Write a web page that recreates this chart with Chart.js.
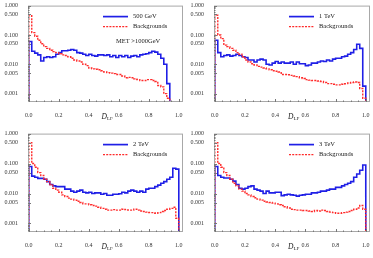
<!DOCTYPE html>
<html lang="en">
<head>
<meta charset="UTF-8">
<title>D_LF distributions</title>
<script src="https://cdn.jsdelivr.net/npm/chart.js"></script>
<style>
    body { margin: 0; background: #fff; }
    .wrap { position: relative; width: 373px; height: 258px; }
    canvas { position: absolute; }
</style>
</head>
<body>
<div class="wrap">
    <canvas id="c1" width="186" height="128" style="left:0;top:0"></canvas>
    <canvas id="c2" width="187" height="128" style="left:186px;top:0"></canvas>
    <canvas id="c3" width="186" height="130" style="left:0;top:128px"></canvas>
    <canvas id="c4" width="187" height="130" style="left:186px;top:128px"></canvas>
</div>
<script>
// bins of width 0.02 from 0 to 1 (50 bins), normalised distributions
const BIN = 0.02;
const yTickValues = [1, 0.5, 0.1, 0.05, 0.01, 0.005, 0.001];
const xTickValues = [0, 0.2, 0.4, 0.6, 0.8, 1.0];
const signalLabels = ['500 GeV', '1 TeV', '2 TeV', '3 TeV'];

const sig500 = [0.06, 0.028, 0.024, 0.021, 0.013, 0.017, 0.018, 0.017, 0.018, 0.022,
    0.025, 0.029, 0.029, 0.03, 0.032, 0.03, 0.025, 0.024, 0.022, 0.02,
    0.022, 0.02, 0.019, 0.021, 0.021, 0.02, 0.021, 0.018, 0.02, 0.017,
    0.02, 0.018, 0.02, 0.017, 0.019, 0.02, 0.018, 0.021, 0.022, 0.023,
    0.025, 0.028, 0.026, 0.022, 0.016, 0.01, 0.0022, 0, 0, 0];
const bkg500 = [0.45, 0.12, 0.09, 0.066, 0.05, 0.04, 0.035, 0.03, 0.027, 0.025,
    0.023, 0.021, 0.02, 0.018, 0.016, 0.014, 0.013, 0.012, 0.01, 0.009,
    0.0075, 0.007, 0.0068, 0.0065, 0.006, 0.0055, 0.0052, 0.005, 0.0048, 0.0045,
    0.0045, 0.004, 0.0035, 0.0036, 0.0035, 0.0032, 0.003, 0.0028, 0.0028, 0.003,
    0.003, 0.0028, 0.0026, 0.0019, 0.0017, 0.001, 0.0007, 0, 0, 0];

const sig1 = [0.066, 0.025, 0.018, 0.02, 0.021, 0.019, 0.02, 0.022, 0.02, 0.018,
    0.017, 0.014, 0.014, 0.012, 0.014, 0.015, 0.014, 0.01, 0.0095, 0.011,
    0.0125, 0.011, 0.012, 0.011, 0.011, 0.012, 0.01, 0.012, 0.0105, 0.0105,
    0.009, 0.0095, 0.011, 0.011, 0.012, 0.013, 0.0125, 0.014, 0.013, 0.015,
    0.016, 0.016, 0.018, 0.019, 0.022, 0.025, 0.032, 0.048, 0.035, 0.0018];
const bkg1 = [0.47, 0.1, 0.075, 0.045, 0.04, 0.035, 0.03, 0.025, 0.022, 0.018,
    0.014, 0.012, 0.0105, 0.0095, 0.0085, 0.008, 0.0075, 0.007, 0.0065, 0.006,
    0.0058, 0.0055, 0.0045, 0.0045, 0.0044, 0.0042, 0.004, 0.0038, 0.0035, 0.0033,
    0.003, 0.0029, 0.0028, 0.0028, 0.0027, 0.0026, 0.0024, 0.0022, 0.0022, 0.0021,
    0.002, 0.002, 0.0021, 0.0022, 0.0023, 0.0024, 0.0025, 0.0024, 0.0015, 0.0007];

const sig2 = [0.08, 0.038, 0.035, 0.032, 0.032, 0.03, 0.025, 0.02, 0.018, 0.017,
    0.017, 0.017, 0.014, 0.014, 0.012, 0.011, 0.012, 0.013, 0.011, 0.0105,
    0.011, 0.01, 0.0105, 0.0105, 0.0095, 0.01, 0.0088, 0.0088, 0.0095, 0.0095,
    0.0098, 0.011, 0.0105, 0.012, 0.013, 0.012, 0.011, 0.012, 0.011, 0.014,
    0.015, 0.015, 0.017, 0.019, 0.022, 0.025, 0.03, 0.035, 0.07, 0.065];
const bkg2 = [0.5, 0.1, 0.075, 0.05, 0.04, 0.03, 0.025, 0.02, 0.015, 0.013,
    0.011, 0.009, 0.008, 0.007, 0.0065, 0.006, 0.0055, 0.005, 0.0045, 0.0045,
    0.0042, 0.004, 0.0038, 0.0035, 0.0032, 0.003, 0.0028, 0.0028, 0.0029, 0.0028,
    0.0028, 0.003, 0.0029, 0.0028, 0.0028, 0.003, 0.0028, 0.0026, 0.0025, 0.0024,
    0.0023, 0.0023, 0.0022, 0.0023, 0.0025, 0.0027, 0.003, 0.0032, 0.0035, 0.0015];

const sig3 = [0.08, 0.04, 0.035, 0.033, 0.033, 0.03, 0.026, 0.02, 0.015, 0.014,
    0.015, 0.017, 0.018, 0.014, 0.013, 0.012, 0.01, 0.012, 0.0105, 0.0105,
    0.011, 0.011, 0.0085, 0.009, 0.0095, 0.009, 0.0088, 0.0082, 0.0088, 0.009,
    0.0095, 0.0095, 0.0105, 0.0105, 0.011, 0.012, 0.012, 0.013, 0.014, 0.014,
    0.016, 0.016, 0.018, 0.02, 0.022, 0.025, 0.035, 0.045, 0.06, 0.09];
const bkg3 = [0.5, 0.1, 0.075, 0.05, 0.04, 0.03, 0.022, 0.018, 0.014, 0.012,
    0.01, 0.009, 0.008, 0.0072, 0.0065, 0.006, 0.0055, 0.0052, 0.005, 0.0048,
    0.0045, 0.0042, 0.004, 0.0036, 0.0033, 0.003, 0.0029, 0.0028, 0.0028, 0.0027,
    0.0027, 0.0026, 0.0025, 0.0027, 0.0026, 0.0028, 0.0027, 0.0025, 0.0024, 0.0023,
    0.0022, 0.0022, 0.0023, 0.0024, 0.0025, 0.0027, 0.003, 0.0033, 0.004, 0.003];

const Y_MIN = 0.00052, Y_MAX = 1;
const FLOOR = Y_MIN / 3;
const SERIF = '"Liberation Serif", "DejaVu Serif", serif';
const BLUE = '#1f1fe6';
const RED = '#ff2b2b';

// histogram outline as a stepped line: each point holds the value of the bin to its right
function toSteps(vals) {
    const pts = [{ x: 0, y: FLOOR }];
    vals.forEach((v, i) => pts.push({ x: i * BIN, y: v > 0 ? v : FLOOR }));
    pts.push({ x: vals.length * BIN, y: FLOOR });
    return pts;
}

const framePlugin = {
    id: 'frame',
    afterDraw(chart, args, opts) {
        const { ctx, chartArea: a, scales } = chart;
        ctx.save();
        ctx.strokeStyle = '#a8a8a8';
        ctx.lineWidth = 1;
        ctx.strokeRect(a.left + 0.5, a.top + 0.5, a.width - 1, a.height - 1);

        // inward ticks
        ctx.strokeStyle = '#777';
        ctx.beginPath();
        for (let d = 0.0001; d <= 1; d *= 10) {
            for (let k = 1; k <= 9; k++) {
                const v = d * k;
                if (v < Y_MIN || v > Y_MAX * 1.0001) continue;
                const y = Math.round(scales.y.getPixelForValue(v)) + 0.5;
                const len = yTickValues.some(t => Math.abs(t - v) < 1e-9) ? 3 : 1.5;
                ctx.moveTo(a.left, y); ctx.lineTo(a.left + len, y);
            }
        }
        for (let i = 0; i <= 20; i++) {
            const v = i * 0.05;
            const x = Math.round(scales.x.getPixelForValue(v)) + 0.5;
            const len = i % 4 === 0 ? 3 : 1.5;
            ctx.moveTo(x, a.bottom); ctx.lineTo(x, a.bottom - len);
        }
        ctx.stroke();

        // legend
        const lx = a.left + 75, ly = a.top + 11;
        ctx.lineWidth = 1.7;
        ctx.strokeStyle = BLUE;
        ctx.beginPath(); ctx.moveTo(lx, ly); ctx.lineTo(lx + 25, ly); ctx.stroke();
        ctx.strokeStyle = RED;
        ctx.lineWidth = 1.4;
        ctx.setLineDash([2, 1.2]);
        ctx.beginPath(); ctx.moveTo(lx, ly + 10); ctx.lineTo(lx + 25, ly + 10); ctx.stroke();
        ctx.setLineDash([]);
        ctx.fillStyle = '#222';
        ctx.font = '6.5px ' + SERIF;
        ctx.textBaseline = 'middle';
        ctx.fillText(opts.label, lx + 30, ly);
        ctx.fillText('Backgrounds', lx + 30, ly + 10);
        if (opts.note) ctx.fillText(opts.note, lx + 13, ly + 25);

        // axis title D_LF
        const tx = (a.left + a.right) / 2 - 4, ty = a.bottom + 15;
        ctx.font = 'italic 7.5px ' + SERIF;
        ctx.fillText('D', tx, ty);
        ctx.font = '5px ' + SERIF;
        ctx.fillText('LF', tx + 5.5, ty + 2);
        ctx.restore();
    }
};

function makeChart(id, sig, bkg, label, note) {
    return new Chart(document.getElementById(id), {
        type: 'line',
        data: {
            datasets: [
                { data: toSteps(bkg), borderColor: RED, borderWidth: 1.4, borderDash: [2, 1.2],
                  stepped: true, pointRadius: 0, fill: false },
                { data: toSteps(sig), borderColor: BLUE, borderWidth: 1.6,
                  stepped: true, pointRadius: 0, fill: false }
            ]
        },
        options: {
            responsive: false,
            animation: false,
            events: [],
            layout: { padding: { left: 1, right: 3, top: 4, bottom: 0 } },
            plugins: {
                legend: { display: false },
                tooltip: { enabled: false },
                frame: { label: label, note: note }
            },
            scales: {
                x: {
                    type: 'linear', min: -0.005, max: 1.028,
                    grid: { display: false }, border: { display: false },
                    afterBuildTicks: s => { s.ticks = xTickValues.map(v => ({ value: v })); },
                    afterFit: s => { s.height = 26; },
                    ticks: { padding: 2, color: '#333', font: { family: SERIF, size: 6 },
                             maxRotation: 0, callback: v => Number(v).toFixed(1) }
                },
                y: {
                    type: 'logarithmic', min: Y_MIN, max: Y_MAX,
                    grid: { display: false }, border: { display: false },
                    afterBuildTicks: s => { s.ticks = yTickValues.map(v => ({ value: v })); },
                    afterFit: s => { s.width = 27; },
                    ticks: { padding: 2, color: '#333', font: { family: SERIF, size: 6 },
                             callback: v => Number(v).toFixed(3) }
                }
            }
        },
        plugins: [framePlugin]
    });
}

makeChart('c1', sig500, bkg500, signalLabels[0], 'MET >1000GeV');
makeChart('c2', sig1, bkg1, signalLabels[1]);
makeChart('c3', sig2, bkg2, signalLabels[2]);
makeChart('c4', sig3, bkg3, signalLabels[3]);
</script>
</body>
</html>
